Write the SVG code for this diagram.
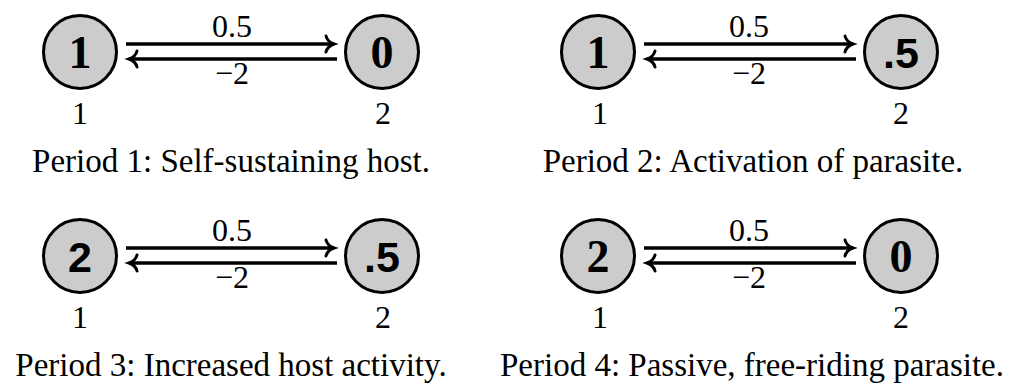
<svg xmlns="http://www.w3.org/2000/svg" width="1013" height="387" viewBox="0 0 1013 387">
<style>
.node circle{fill:#cccccc;stroke:#000;stroke-width:3}
.nb{font-family:"Liberation Serif",serif;font-weight:bold;font-size:46px;text-anchor:middle;fill:#000}
.ns{font-family:"Liberation Sans",sans-serif;font-weight:bold;font-size:43px;text-anchor:middle;fill:#000}
.lbl{font-family:"Liberation Serif",serif;font-size:32px;text-anchor:middle;fill:#000}
.cap{font-family:"Liberation Serif",serif;font-size:33px;text-anchor:middle;fill:#000}
.edge{stroke:#000;stroke-width:3.5;fill:none;marker-end:url(#to)}
</style>
<defs>
<marker id="to" viewBox="-12 -12 16 24" markerWidth="16" markerHeight="24" refX="0" refY="0" orient="auto" markerUnits="userSpaceOnUse" overflow="visible">
<path d="M-8,-8 C-7,-4 -3,-1 0,0 C-3,1 -7,4 -8,8" fill="none" stroke="#000" stroke-width="3" stroke-linecap="round"/>
</marker>
</defs>
<g id="connectors">
<line class="edge" x1="126" y1="44" x2="334" y2="44"/>
<line class="edge" x1="337" y1="59" x2="129" y2="59"/>
<line class="edge" x1="644" y1="44" x2="853" y2="44"/>
<line class="edge" x1="856" y1="59" x2="647" y2="59"/>
<line class="edge" x1="126" y1="248" x2="334" y2="248"/>
<line class="edge" x1="337" y1="263" x2="129" y2="263"/>
<line class="edge" x1="644" y1="248" x2="853" y2="248"/>
<line class="edge" x1="856" y1="263" x2="647" y2="263"/>
</g>
<g id="edge-labels">
<text class="lbl" x="232" y="37">0.5</text>
<text class="lbl" x="232" y="84">−2</text>
<text class="lbl" x="749" y="37">0.5</text>
<text class="lbl" x="749" y="84">−2</text>
<text class="lbl" x="232" y="241">0.5</text>
<text class="lbl" x="232" y="288">−2</text>
<text class="lbl" x="749" y="241">0.5</text>
<text class="lbl" x="749" y="288">−2</text>
</g>
<g id="p1-n1" class="node"><circle cx="80" cy="52" r="36.5"/><text class="nb" x="80" y="67.5">1</text><text class="lbl" x="80" y="124">1</text></g>
<g id="p1-n2" class="node"><circle cx="382" cy="52" r="36.5"/><text class="nb" x="382" y="67.5">0</text><text class="lbl" x="383" y="124">2</text></g>
<g id="p2-n1" class="node"><circle cx="598" cy="52" r="36.5"/><text class="nb" x="598" y="67.5">1</text><text class="lbl" x="600" y="124">1</text></g>
<g id="p2-n2" class="node"><circle cx="901" cy="52" r="36.5"/><text class="ns" x="901" y="67.5">.5</text><text class="lbl" x="901" y="124">2</text></g>
<g id="p3-n1" class="node"><circle cx="80" cy="256" r="36.5"/><text class="ns" x="80" y="271.5">2</text><text class="lbl" x="80" y="328">1</text></g>
<g id="p3-n2" class="node"><circle cx="382" cy="256" r="36.5"/><text class="ns" x="382" y="271.5">.5</text><text class="lbl" x="383" y="328">2</text></g>
<g id="p4-n1" class="node"><circle cx="598" cy="256" r="36.5"/><text class="nb" x="598" y="271.5">2</text><text class="lbl" x="600" y="328">1</text></g>
<g id="p4-n2" class="node"><circle cx="901" cy="256" r="36.5"/><text class="nb" x="901" y="271.5">0</text><text class="lbl" x="901" y="328">2</text></g>
<g id="captions">
<text class="cap" x="231" y="172">Period 1: Self-sustaining host.</text>
<text class="cap" x="753" y="172">Period 2: Activation of parasite.</text>
<text class="cap" x="231" y="376">Period 3: Increased host activity.</text>
<text class="cap" x="752" y="376">Period 4: Passive, free-riding parasite.</text>
</g>
</svg>
